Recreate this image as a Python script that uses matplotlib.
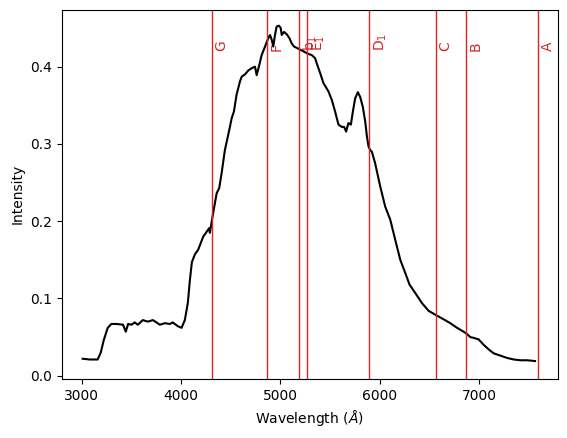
import matplotlib.pyplot as plt

# spectrum
wavelength = [3010, 3081, 3161, 3192, 3222, 3262, 3299, 3353, 3416, 3444,
              3467, 3501, 3534, 3565, 3615, 3665, 3716, 3753, 3786, 3837,
              3887, 3917, 3968, 4005, 4038, 4068, 4089, 4109, 4139, 4172,
              4223, 4283, 4290, 4317, 4358, 4384, 4408, 4441, 4485, 4509,
              4532, 4559, 4593, 4610, 4643, 4676, 4711, 4744, 4761, 4787,
              4811, 4845, 4878, 4895, 4912, 4928, 4945, 4962, 4986, 5003,
              5013, 5036, 5063, 5090, 5114, 5137, 5170, 5197, 5231, 5271,
              5315, 5349, 5366, 5399, 5432, 5483, 5517, 5550, 5584, 5618,
              5641, 5661, 5684, 5709, 5729, 5752, 5779, 5802, 5829, 5853,
              5870, 5886, 5903, 5920, 5953, 6004, 6054, 6105, 6155, 6206,
              6256, 6299, 6357, 6424, 6491, 6558, 6642, 6709, 6777, 6843,
              6877, 6911, 6944, 6995, 7045, 7096, 7146, 7213, 7281, 7348,
              7415, 7483, 7562]
intensity = [0.022, 0.021, 0.021, 0.030, 0.046, 0.062, 0.067, 0.067, 0.066, 0.057,
             0.067, 0.066, 0.069, 0.066, 0.072, 0.070, 0.072, 0.069, 0.066, 0.068,
             0.067, 0.069, 0.064, 0.062, 0.072, 0.094, 0.124, 0.147, 0.157, 0.163,
             0.180, 0.191, 0.185, 0.206, 0.236, 0.243, 0.262, 0.292, 0.318, 0.333,
             0.342, 0.364, 0.381, 0.387, 0.390, 0.395, 0.398, 0.400, 0.389, 0.402,
             0.415, 0.426, 0.437, 0.441, 0.435, 0.426, 0.441, 0.452, 0.453, 0.450,
             0.441, 0.445, 0.442, 0.437, 0.430, 0.426, 0.424, 0.422, 0.420, 0.417,
             0.415, 0.411, 0.404, 0.392, 0.379, 0.368, 0.357, 0.342, 0.325, 0.322,
             0.322, 0.316, 0.327, 0.325, 0.342, 0.359, 0.367, 0.361, 0.348, 0.329,
             0.310, 0.297, 0.292, 0.290, 0.275, 0.245, 0.219, 0.202, 0.176, 0.150,
             0.133, 0.118, 0.107, 0.094, 0.084, 0.079, 0.073, 0.068, 0.062, 0.057,
             0.054, 0.050, 0.049, 0.047, 0.040, 0.034, 0.029, 0.026, 0.023, 0.021,
             0.020, 0.020, 0.019]

# Fraunhofer lines
line_names = ['G', 'F', 'b$_1$', 'E$_1$', 'D$_1$', 'C', 'B', 'A']
line_pos = [4308, 4861, 5184, 5270, 5896, 6563, 6867, 7594]

fig = plt.figure(figsize=(5.67, 4.38), dpi=100)
ax = fig.add_axes([61.5 / 567, 1 - 379.2 / 438, 496.2 / 567, 369.7 / 438])

ax.plot(wavelength, intensity, color='black', lw=1.5)

for name, x in zip(line_names, line_pos):
    ax.axvline(x, color='tab:red', lw=1)
    ax.text(x + 30, 0.42, name, rotation=90, color='tab:red', va='bottom')

ax.set_xlim(2797, 7790)
ax.set_ylim(-0.0045, 0.474)
ax.set_xlabel('Wavelength ($\\AA$)')
ax.set_ylabel('Intensity')

fig.savefig('out.png', dpi=100)
